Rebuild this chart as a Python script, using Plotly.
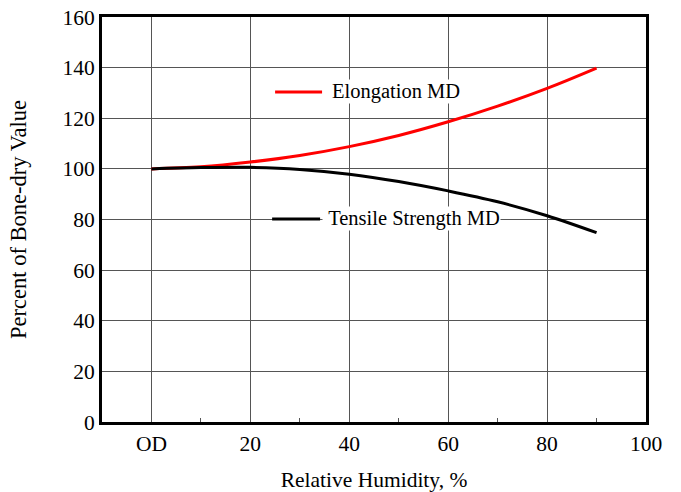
import plotly.graph_objects as go

rh = [0, 10, 20, 30, 40, 50, 60, 70, 80, 90]
elongation = [100, 100.8, 102.7, 105.3, 108.8, 113.2, 118.6, 124.8, 131.8, 139.8]
tensile = [100, 100.5, 100.6, 99.8, 97.9, 95.0, 91.3, 87.0, 81.5, 74.8]

x_ticks = [0, 20, 40, 60, 80, 100]
x_labels = ["OD", "20", "40", "60", "80", "100"]
y_ticks = [0, 20, 40, 60, 80, 100, 120, 140, 160]

font = "Liberation Serif, Times New Roman, serif"
tick_size = 21.5
title_size = 21.5
ann_size = 20.5

fig = go.Figure()
fig.add_trace(go.Scatter(x=rh, y=elongation, mode="lines", line=dict(color="#ff0000", width=3, shape="spline"),
                         name="Elongation MD", showlegend=False))
fig.add_trace(go.Scatter(x=rh, y=tensile, mode="lines", line=dict(color="#000000", width=3, shape="spline"),
                         name="Tensile Strength MD", showlegend=False))

# legend-like labels
fig.add_shape(type="line", x0=25, x1=34.5, y0=130.4, y1=130.4, line=dict(color="#ff0000", width=3))
fig.add_shape(type="line", x0=24.4, x1=34.1, y0=80.2, y1=80.2, line=dict(color="#000000", width=3))
fig.add_annotation(x=36.4, y=130.6, text="Elongation MD", showarrow=False, xanchor="left",
                   bgcolor="white", font=dict(family=font, size=ann_size, color="black"), borderpad=0)
fig.add_annotation(x=34.5, y=80.4, text="&nbsp;Tensile Strength MD", showarrow=False, xanchor="left",
                   bgcolor="white", font=dict(family=font, size=ann_size, color="black"), borderpad=0)

axis_common = dict(showline=True, linecolor="black", linewidth=3, mirror=True, automargin=False,
                   showgrid=True, gridcolor="#555555", gridwidth=1, zeroline=False,
                   ticks="", tickfont=dict(family=font, size=tick_size, color="black"))

fig.update_xaxes(range=[-10, 100], tickvals=x_ticks, ticktext=x_labels,
                 title=dict(text="Relative Humidity, %", font=dict(family=font, size=title_size, color="black"), standoff=22),
                 minor=dict(tickvals=[10, 30, 50, 70, 90], ticks="inside", ticklen=4, tickcolor="#555555", showgrid=False),
                 **axis_common)
fig.update_yaxes(range=[0, 160], tickvals=y_ticks,
                 title=dict(text="Percent of Bone-dry Value", font=dict(family=font, size=22.5, color="black"), standoff=30),
                 **axis_common)

fig.update_layout(width=681, height=492, margin=dict(l=102, r=35, t=17, b=70),
                  plot_bgcolor="white", paper_bgcolor="white", font=dict(family=font))

fig.write_html("out.html")
